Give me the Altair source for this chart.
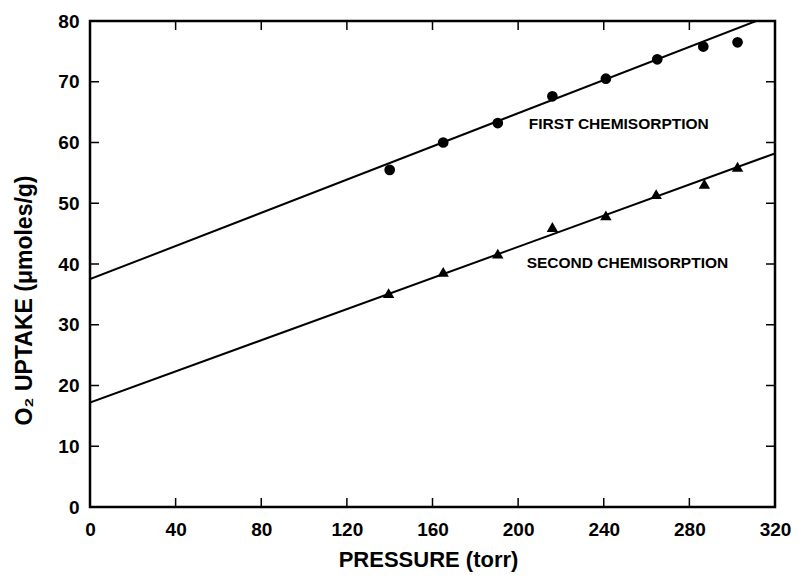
import altair as alt
import pandas as pd

# ---- data ----
pressure_first = [140, 165, 190.5, 216, 241, 265, 286.5, 302.5]
uptake_first = [55.5, 60.0, 63.2, 67.6, 70.5, 73.7, 75.8, 76.5]
pressure_second = [139.5, 165, 190.5, 216, 241, 264.5, 287, 302.5]
uptake_second = [35.2, 38.7, 41.7, 46.1, 48.0, 51.5, 53.2, 56.0]
fit_x = [0, 320]
fit_first = [37.5, 81.2]
fit_second = [17.2, 58.2]
x_tick_vals = [0, 40, 80, 120, 160, 200, 240, 280, 320]
y_tick_vals = [0, 10, 20, 30, 40, 50, 60, 70, 80]
inner_x_ticks = [40, 80, 120, 160, 200, 240, 280]
inner_y_ticks = [10, 20, 30, 40, 50, 60, 70]
label_text = ["FIRST CHEMISORPTION", "SECOND CHEMISORPTION"]
label_x = [205, 204]
label_y = [63.0, 40.1]

W, H = 685, 486
FONT = "Liberation Sans"

xs = alt.Scale(domain=[0, 320], nice=False, zero=False)
ys = alt.Scale(domain=[0, 80], nice=False, zero=False)

df_first = pd.DataFrame({"p": pressure_first, "u": uptake_first})
df_second = pd.DataFrame({"p": pressure_second, "u": uptake_second})
df_fit1 = pd.DataFrame({"p": fit_x, "u": fit_first})
df_fit2 = pd.DataFrame({"p": fit_x, "u": fit_second})
df_lab = pd.DataFrame({"p": label_x, "u": label_y, "t": label_text})
df_xt = pd.DataFrame({"p": inner_x_ticks})
df_yt = pd.DataFrame({"u": inner_y_ticks})

x_axis = alt.Axis(
    values=x_tick_vals, title="PRESSURE (torr)", domain=False, ticks=False, tickSize=0,
    grid=False, labelFont=FONT, labelFontWeight="bold", labelFontSize=19, labelColor="black",
    labelPadding=13, labelFlush=False, labelOverlap=False,
    titleFont=FONT, titleFontWeight="bold", titleFontSize=22, titleColor="black",
    titleX=338, titleY=59, titleAlign="center", titleBaseline="alphabetic",
)
y_axis = alt.Axis(
    values=y_tick_vals, title="O\u2082 UPTAKE (\u03bcmoles/g)", domain=False, ticks=False, tickSize=0,
    grid=False, labelFont=FONT, labelFontWeight="bold", labelFontSize=19, labelColor="black",
    labelPadding=11, labelFlush=False, labelOverlap=False,
    titleFont=FONT, titleFontWeight="bold", titleFontSize=23, titleColor="black",
    titleX=-59, titleY=279, titleAngle=270, titleAlign="center", titleBaseline="alphabetic",
)

X = alt.X("p:Q", scale=xs, axis=x_axis)
Y = alt.Y("u:Q", scale=ys, axis=y_axis)

circles = alt.Chart(df_first).mark_point(shape="circle", filled=True, size=115, color="black", opacity=1).encode(x=X, y=Y)
tris = alt.Chart(df_second).mark_point(shape="triangle-up", filled=True, size=130, color="black", opacity=1).encode(x=X, y=Y)
line1 = alt.Chart(df_fit1).mark_line(color="black", strokeWidth=2, clip=True).encode(x=X, y=Y)
line2 = alt.Chart(df_fit2).mark_line(color="black", strokeWidth=2, clip=True).encode(x=X, y=Y)
labels = alt.Chart(df_lab).mark_text(align="left", baseline="middle", font=FONT, fontWeight="bold",
                                     fontSize=15.5, color="black").encode(x=X, y=Y, text="t:N")

TL = 9
tick_top = alt.Chart(df_xt).mark_rule(color="black", strokeWidth=1.5).encode(
    x=X, y=alt.value(0), y2=alt.value(TL))
tick_bot = alt.Chart(df_xt).mark_rule(color="black", strokeWidth=1.5).encode(
    x=X, y=alt.value(H), y2=alt.value(H - TL))
tick_left = alt.Chart(df_yt).mark_rule(color="black", strokeWidth=1.5).encode(
    y=Y, x=alt.value(0), x2=alt.value(TL))
tick_right = alt.Chart(df_yt).mark_rule(color="black", strokeWidth=1.5).encode(
    y=Y, x=alt.value(W), x2=alt.value(W - TL))

chart = alt.layer(
    circles, tris, line1, line2, labels, tick_top, tick_bot, tick_left, tick_right
).properties(
    width=W, height=H, autosize="none",
    padding={"left": 82, "top": 13, "right": 16, "bottom": 65},
    background="white",
).configure_view(stroke="black", strokeWidth=2.5)

chart.save("out.html", embed_options={"renderer": "svg", "actions": False})
